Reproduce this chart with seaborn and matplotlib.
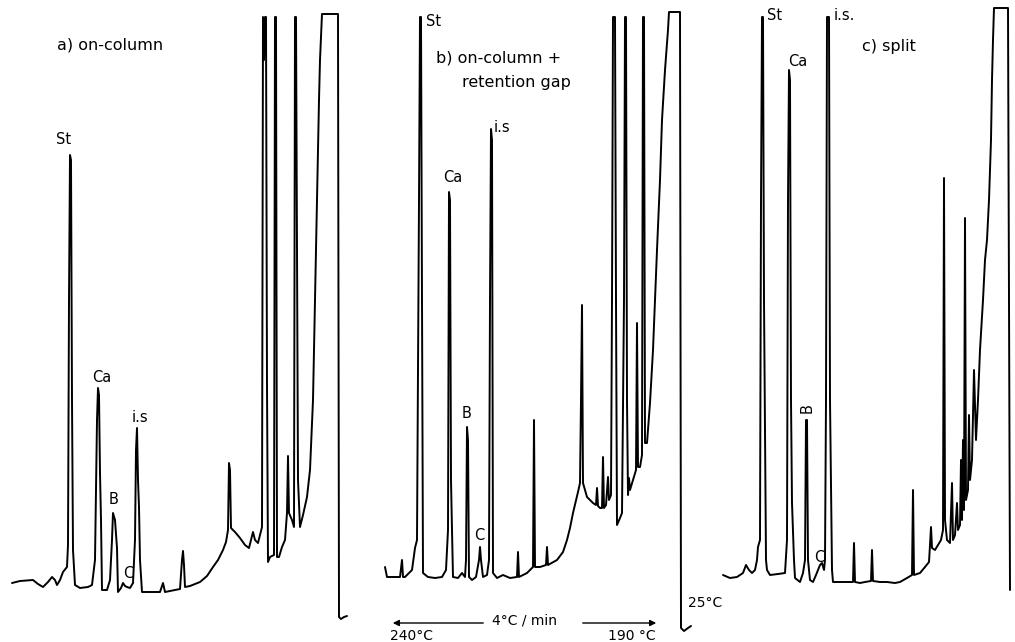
import matplotlib
matplotlib.use("Agg")
import matplotlib.pyplot as plt
import seaborn as sns
import pandas as pd

# Chromatogram traces: (chart position, pen deflection).
# Deflection is measured downward from the top of the recorder paper.
trace_on_column = [
    (12, 583), (20, 581), (33, 580), (38, 584), (43, 587), (48, 582), (52, 577), (55, 580), (57, 585), (60, 580),
    (63, 572), (67, 567), (68, 545), (69, 300), (70, 155), (71, 160), (72, 400), (73, 550), (75, 585), (80, 588),
    (88, 587), (92, 585), (95, 560), (97, 420), (98, 388), (99, 395), (100, 473), (101, 520), (102, 590), (107, 590),
    (110, 580), (112, 540), (113, 513), (115, 520), (117, 548), (118, 592), (121, 588), (123, 583), (125, 586), (127, 587),
    (130, 588), (133, 583), (135, 540), (136, 450), (137, 428), (138, 480), (139, 507), (140, 560), (142, 592), (150, 592),
    (160, 592), (163, 583), (165, 592), (175, 590), (180, 589), (182, 560), (183, 551), (184, 565), (185, 587), (190, 586),
    (200, 582), (207, 576), (213, 567), (218, 560), (223, 550), (226, 542), (228, 530), (229, 463), (230, 470), (231, 528),
    (235, 532), (240, 538), (245, 545), (249, 548), (251, 540), (253, 532), (255, 540), (258, 543), (260, 535), (262, 527),
    (263, 17), (264, 60), (265, 17), (266, 17), (267, 385), (268, 562), (270, 557), (274, 555), (275, 17), (276, 17),
    (277, 557), (279, 557), (282, 547), (285, 540), (287, 513), (288, 456), (289, 513), (292, 520), (294, 527), (295, 17),
    (296, 17), (298, 480), (300, 527), (303, 515), (307, 497), (310, 470), (313, 400), (315, 300), (317, 200), (319, 100),
    (320, 60), (322, 14), (338, 14), (339, 617), (341, 619), (344, 617), (347, 616),
]

trace_retention_gap = [
    (385, 567), (387, 577), (395, 577), (400, 577), (402, 560), (403, 577), (405, 577), (410, 572), (412, 570), (415, 548),
    (417, 540), (419, 200), (420, 17), (421, 17), (422, 300), (423, 573), (428, 577), (435, 578), (442, 577), (446, 570),
    (448, 530), (449, 192), (450, 200), (451, 480), (452, 530), (453, 577), (458, 578), (462, 573), (465, 577), (466, 560),
    (467, 427), (468, 440), (469, 577), (472, 580), (476, 577), (479, 560), (480, 547), (481, 560), (483, 577), (487, 575),
    (489, 560), (490, 300), (491, 129), (492, 140), (493, 573), (497, 578), (503, 575), (510, 578), (517, 577), (518, 552),
    (519, 577), (527, 573), (533, 567), (534, 420), (535, 567), (540, 567), (546, 565), (547, 547), (548, 565), (557, 560),
    (563, 552), (567, 540), (570, 528), (573, 513), (578, 492), (580, 483), (581, 400), (582, 305), (583, 483), (587, 497),
    (590, 500), (593, 503), (596, 505), (597, 488), (598, 506), (600, 508), (602, 508), (603, 457), (604, 508), (606, 505),
    (608, 477), (609, 500), (611, 495), (612, 300), (613, 17), (615, 17), (616, 300), (617, 525), (620, 518), (622, 513),
    (624, 300), (625, 17), (626, 17), (627, 400), (628, 495), (629, 478), (630, 490), (633, 480), (636, 470), (637, 323),
    (638, 467), (640, 467), (642, 455), (643, 17), (644, 17), (645, 443), (647, 443), (650, 403), (653, 350), (655, 300),
    (657, 250), (660, 180), (662, 120), (665, 70), (668, 30), (669, 12), (680, 12), (681, 628), (684, 631), (688, 628),
    (691, 626),
]

trace_split = [
    (723, 575), (730, 578), (737, 577), (743, 573), (746, 565), (749, 570), (752, 573), (755, 570), (757, 560), (758, 547),
    (760, 540), (761, 200), (762, 17), (763, 17), (764, 300), (766, 560), (767, 570), (770, 575), (778, 574), (785, 573),
    (787, 540), (788, 200), (789, 70), (790, 80), (791, 400), (792, 503), (794, 560), (795, 578), (800, 582), (803, 573),
    (805, 560), (806, 420), (807, 420), (808, 560), (810, 580), (813, 582), (816, 575), (818, 570), (820, 565), (822, 563),
    (824, 570), (825, 560), (826, 400), (827, 17), (829, 17), (830, 400), (832, 570), (833, 582), (840, 582), (853, 582),
    (854, 543), (855, 582), (860, 583), (865, 582), (871, 581), (872, 550), (873, 581), (880, 582), (887, 582), (895, 583),
    (900, 582), (907, 578), (912, 575), (913, 490), (914, 575), (920, 573), (925, 567), (929, 562), (930, 545), (931, 527),
    (932, 548), (935, 550), (938, 545), (941, 540), (943, 530), (944, 178), (945, 520), (947, 540), (950, 543), (952, 483),
    (953, 540), (955, 535), (957, 503), (958, 530), (960, 525), (961, 460), (962, 520), (963, 440), (964, 510), (965, 218),
    (966, 500), (968, 490), (969, 415), (970, 480), (972, 460), (974, 370), (976, 440), (978, 400), (980, 350), (983, 300),
    (985, 260), (987, 240), (989, 200), (991, 140), (992, 80), (993, 40), (994, 8), (1008, 8), (1009, 300), (1010, 590),
]

# Peak labels: (text, x, y)
peak_labels_a = [("St", 64, 140), ("Ca", 102, 377), ("B", 114, 500), ("C", 128, 574), ("i.s", 140, 418)]
peak_labels_b = [("Ca", 453, 178), ("B", 467, 414), ("C", 479, 536)]
peak_labels_c = [("Ca", 798, 62), ("C", 819, 557)]

panel_titles = ["a) on-column", "b) on-column +", "retention gap", "c) split"]


def draw_trace(ax, points):
    df = pd.DataFrame(points, columns=["time", "signal"])
    sns.lineplot(data=df, x="time", y="signal", sort=False, estimator=None,
                 color="black", linewidth=1.4, ax=ax)


sns.set_theme(style="white")
plt.rcParams["font.family"] = ["DejaVu Sans"]
plt.rcParams["text.color"] = "black"

fig = plt.figure(figsize=(10.15, 6.42), dpi=100)
ax = fig.add_axes([0, 0, 1, 1])

for trace in (trace_on_column, trace_retention_gap, trace_split):
    draw_trace(ax, trace)

lab = dict(fontsize=10.5, color="black")
for text, x, y in peak_labels_a + peak_labels_b + peak_labels_c:
    ax.text(x, y, text, ha="center", va="center", **lab)

# labels sitting to the right of peaks that run off the top
ax.text(426, 22, "St", ha="left", va="center", **lab)
ax.text(494, 128, "i.s", ha="left", va="center", **lab)
ax.text(767, 16, "St", ha="left", va="center", **lab)
ax.text(834, 16, "i.s.", ha="left", va="center", **lab)
ax.text(807, 408, "B", ha="center", va="center", rotation=90, **lab)

title = dict(fontsize=11.5, color="black", va="center", ha="left")
ax.text(57, 45, panel_titles[0], **title)
ax.text(436, 58, panel_titles[1], **title)
ax.text(462, 83, panel_titles[2], **title)
ax.text(862, 47, panel_titles[3], **title)

# temperature programme arrows
ax.annotate("", xy=(390, 623), xytext=(486, 623),
            arrowprops=dict(arrowstyle="-|>", color="black", lw=1.0, mutation_scale=9))
ax.annotate("", xy=(659, 623), xytext=(580, 623),
            arrowprops=dict(arrowstyle="-|>", color="black", lw=1.0, mutation_scale=9))
ax.text(525, 620, "4°C / min", ha="center", va="center", fontsize=10, color="black")
ax.text(412, 636, "240°C", ha="center", va="center", fontsize=10, color="black")
ax.text(632, 636, "190 °C", ha="center", va="center", fontsize=10, color="black")
ax.text(688, 603, "25°C", ha="left", va="center", fontsize=10, color="black")

ax.set_xlim(0, 1015)
ax.set_ylim(642, 0)
ax.set_axis_off()

fig.savefig("out.png", dpi=100, facecolor="white")
